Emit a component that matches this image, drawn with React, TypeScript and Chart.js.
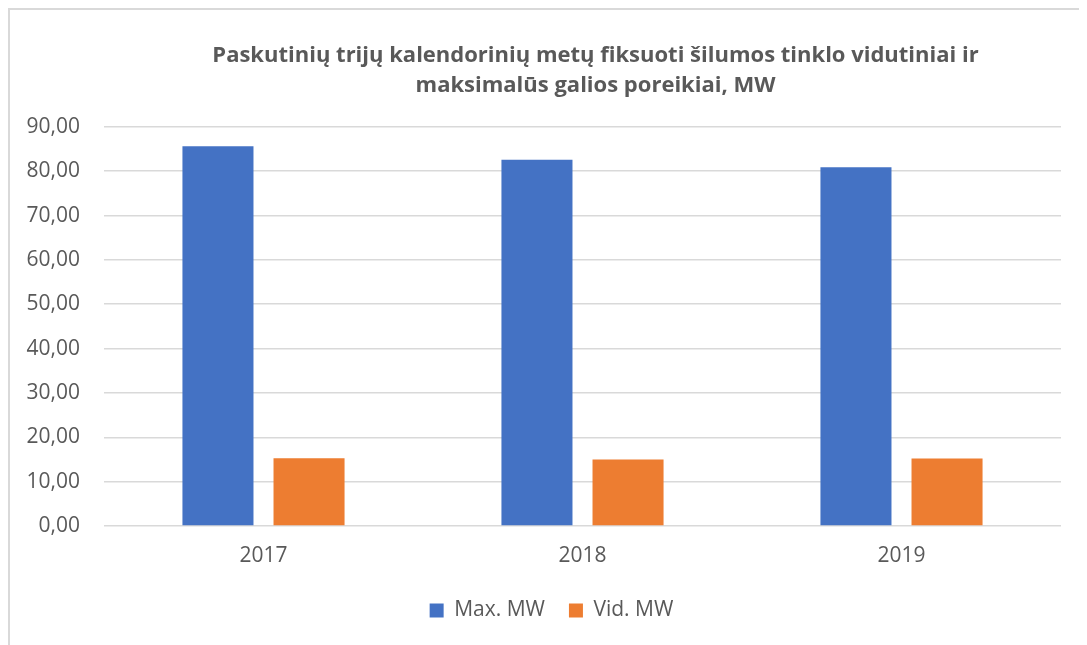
import React, { useEffect, useRef } from "react";
import { Chart, registerables } from "chart.js";

Chart.register(...registerables);

const categories = ["2017", "2018", "2019"];
const maxMW = [85.6, 82.6, 80.9];
const vidMW = [15.3, 15.0, 15.2];
const seriesLabels = ["Max. MW", "Vid. MW"];
const titleLines = [
  "Paskutinių trijų kalendorinių metų fiksuoti šilumos tinklo vidutiniai ir",
  "maksimalūs galios poreikiai, MW",
];
const yMin = 0;
const yMax = 90;
const yStep = 10;

const FONT = "'Open Sans', 'Liberation Sans', sans-serif";
const TEXT = "#595959";

const shiftPlugin = {
  id: "shiftBlocks",
  afterLayout(chart: any) {
    const t = chart.titleBlock;
    if (t) {
      t.left += 60;
      t.right += 60;
    }
    const l = chart.legend;
    if (l) {
      l.left += 16;
      l.right += 16;
    }
  },
};

export default function App() {
  const ref = useRef<HTMLCanvasElement | null>(null);

  useEffect(() => {
    document.body.style.overflow = "hidden";
    const ctx = ref.current!;
    const chart = new Chart(ctx, {
      type: "bar",
      data: {
        labels: categories,
        datasets: [
          {
            label: seriesLabels[0],
            data: maxMW,
            backgroundColor: "#4472C4",
            categoryPercentage: 0.571,
            barPercentage: 0.78,
          },
          {
            label: seriesLabels[1],
            data: vidMW,
            backgroundColor: "#ED7D31",
            categoryPercentage: 0.571,
            barPercentage: 0.78,
          },
        ],
      },
      plugins: [shiftPlugin],
      options: {
        responsive: false,
        animation: false,
        events: [],
        layout: { padding: { left: 0, right: 35, top: 0, bottom: 25 } },
        plugins: {
          title: {
            display: true,
            text: titleLines,
            color: TEXT,
            font: { family: FONT, size: 22, weight: "bold", lineHeight: 1.36 },
            padding: { top: 31, bottom: 26 },
          },
          legend: {
            position: "bottom",
            labels: {
              color: TEXT,
              font: { family: FONT, size: 21 },
              boxWidth: 14,
              boxHeight: 14,
              padding: 24,
            },
          },
          tooltip: { enabled: false },
        },
        scales: {
          x: {
            grid: { display: false, drawTicks: false },
            border: { display: false },
            ticks: {
              color: TEXT,
              font: { family: FONT, size: 21 },
              padding: 17,
            },
            afterFit(scale: any) {
              scale.height = 50;
            },
          },
          y: {
            min: yMin,
            max: yMax,
            grid: { color: "#D9D9D9", lineWidth: 1.5, drawTicks: false },
            border: { display: false },
            ticks: {
              stepSize: yStep,
              color: TEXT,
              font: { family: FONT, size: 21 },
              padding: 24,
              callback: (v: any) => Number(v).toFixed(2).replace(".", ","),
            },
            afterFit(scale: any) {
              scale.width = 94;
            },
          },
        },
      },
    } as any);
    return () => chart.destroy();
  }, []);

  return (
    <div
      style={{
        width: 1090,
        height: 650,
        border: "2px solid #D9D9D9",
        background: "#fff",
      }}
    >
      <canvas ref={ref} width={1086} height={646} style={{ display: "block" }} />
    </div>
  );
}
